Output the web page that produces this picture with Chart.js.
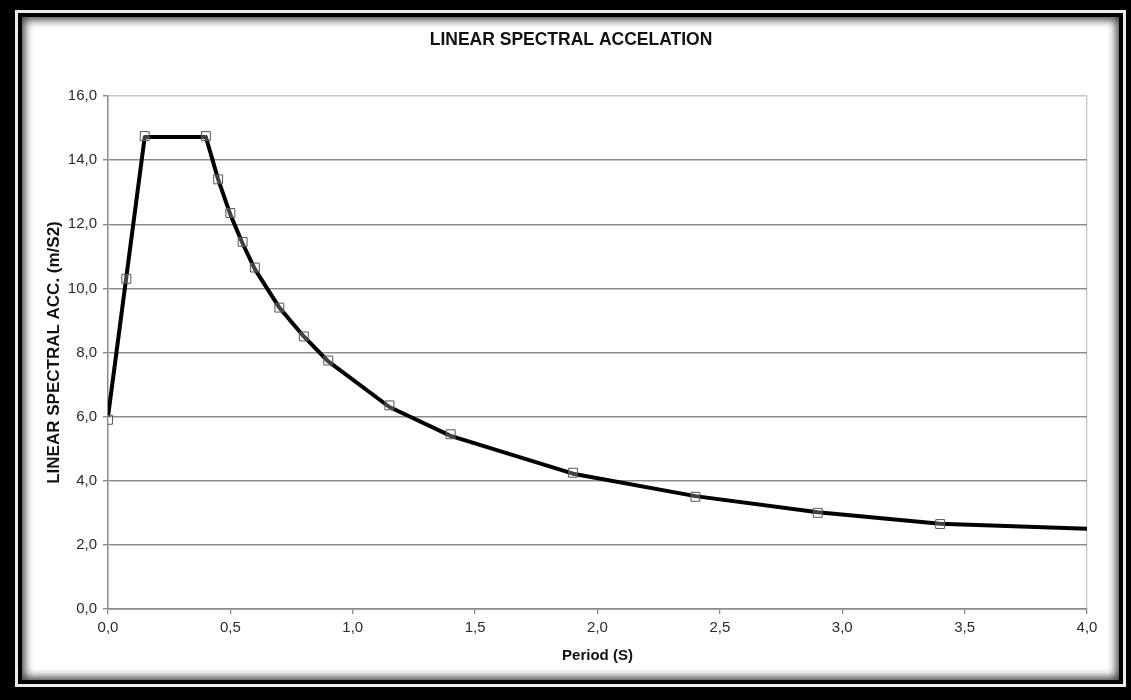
<!DOCTYPE html>
<html>
<head>
<meta charset="utf-8">
<script src="https://cdn.jsdelivr.net/npm/chart.js@4/dist/chart.umd.min.js"></script>
<style>
    html, body { margin: 0; padding: 0; background: #000; width: 1131px; height: 700px; overflow: hidden; }
    .frame-outer {
        position: absolute; left: 15px; top: 10px; width: 1111px; height: 677px;
        box-sizing: border-box; border: 3px solid #ececec;
    }
    .frame-inner {
        position: absolute; left: 0; top: 0; right: 0; bottom: 0;
        border: 4px solid #000; background: #fff;
        box-shadow: inset 0 0 9px 3px rgba(0, 0, 0, 0.75);
    }
    #chart { position: absolute; left: 0; top: 0; }
</style>
</head>
<body>
<div class="frame-outer"><div class="frame-inner"></div></div>
<canvas id="chart" width="1131" height="700"></canvas>
<script>
// Values (period in s, acceleration in m/s2).
const markerPeriod = [0, 0.075, 0.15, 0.40, 0.45, 0.50, 0.55, 0.60, 0.70, 0.80, 0.90, 1.15, 1.40, 1.90, 2.40, 2.90, 3.40];
const markerAccel = [5.9, 10.3, 14.75, 14.75, 13.4, 12.35, 11.45, 10.65, 9.4, 8.5, 7.75, 6.35, 5.45, 4.25, 3.5, 3.0, 2.65];

const curvePeriod = [0, 0.15, 0.40, 0.45, 0.50, 0.55, 0.60, 0.70, 0.80, 0.90, 1.15, 1.40, 1.90, 2.40, 2.90, 3.40, 4.00];
const curveAccel = [6.0, 14.72, 14.72, 13.4, 12.3, 11.4, 10.6, 9.4, 8.5, 7.72, 6.3, 5.4, 4.22, 3.52, 3.02, 2.66, 2.5];

const xRange = [0, 4];
const yRange = [0, 16];

const chartTitle = 'LINEAR SPECTRAL ACCELATION';
const xTitle = 'Period (S)';
const yTitle = 'LINEAR SPECTRAL ACC. (m/S2)';

const toPoints = (xs, ys) => xs.map((x, i) => ({ x, y: ys[i] }));
// decimal comma, one digit - as on the reference axes
const fmt = v => Number(v).toFixed(1).replace('.', ',');

const GRID = '#8c8c8c';
const FAINT = '#c6c6c6';
const TICK_TEXT = '#2a2a2a';
const FONT = '"Liberation Sans", Arial, sans-serif';

new Chart(document.getElementById('chart').getContext('2d'), {
    type: 'scatter',
    data: {
        datasets: [
            {
                label: 'points',
                data: toPoints(markerPeriod, markerAccel),
                showLine: false,
                pointStyle: 'rect',
                pointRadius: 6.3,
                pointBorderWidth: 1,
                pointBorderColor: '#555',
                pointBackgroundColor: 'rgba(255,255,255,0.25)'
            },
            {
                label: 'spectrum',
                data: toPoints(curvePeriod, curveAccel),
                showLine: true,
                borderColor: '#000',
                borderWidth: 4,
                tension: 0,
                pointRadius: 0,
                borderJoinStyle: 'round'
            }
        ]
    },
    options: {
        responsive: false,
        animation: false,
        layout: { padding: { left: 43, right: 32, top: 10, bottom: 33 } },
        plugins: {
            legend: { display: false },
            tooltip: { enabled: false },
            title: {
                display: true,
                text: chartTitle,
                color: '#111',
                font: { family: FONT, size: 17.5, weight: 'bold' },
                padding: { top: 20, bottom: 45 }
            }
        },
        scales: {
            x: {
                type: 'linear',
                min: xRange[0], max: xRange[1],
                afterFit: s => { s.height = 58; },
                ticks: { stepSize: 0.5, callback: fmt, color: TICK_TEXT, padding: 5, maxRotation: 0,
                    font: { family: FONT, size: 15 } },
                grid: {
                    drawOnChartArea: true,
                    color: c => (c.tick && c.tick.value === xRange[1]) ? FAINT : 'transparent',
                    tickColor: GRID, tickLength: 5, lineWidth: 1.3
                },
                border: { display: true, color: GRID, width: 1.5 },
                title: { display: true, text: xTitle, color: '#111', padding: { top: 0, bottom: 2 },
                    font: { family: FONT, size: 15, weight: 'bold' } }
            },
            y: {
                type: 'linear',
                min: yRange[0], max: yRange[1],
                afterFit: s => { s.width = 65; },
                ticks: { stepSize: 2, callback: fmt, color: TICK_TEXT, padding: 6,
                    font: { family: FONT, size: 15 } },
                grid: {
                    color: c => (c.tick && c.tick.value === yRange[1]) ? FAINT : GRID,
                    tickColor: GRID, tickLength: 5, lineWidth: 1.4
                },
                border: { display: true, color: GRID, width: 1.5 },
                title: { display: true, text: yTitle, color: '#111', padding: { top: 1, bottom: 0 },
                    font: { family: FONT, size: 17, weight: 'bold' } }
            },
            // empty right-hand axis: only reserves room so the title centres like the reference
            yRight: {
                type: 'linear', position: 'right',
                min: yRange[0], max: yRange[1],
                afterFit: s => { s.width = 12; },
                ticks: { display: false },
                grid: { display: false },
                border: { display: false }
            }
        }
    }
});
</script>
</body>
</html>
